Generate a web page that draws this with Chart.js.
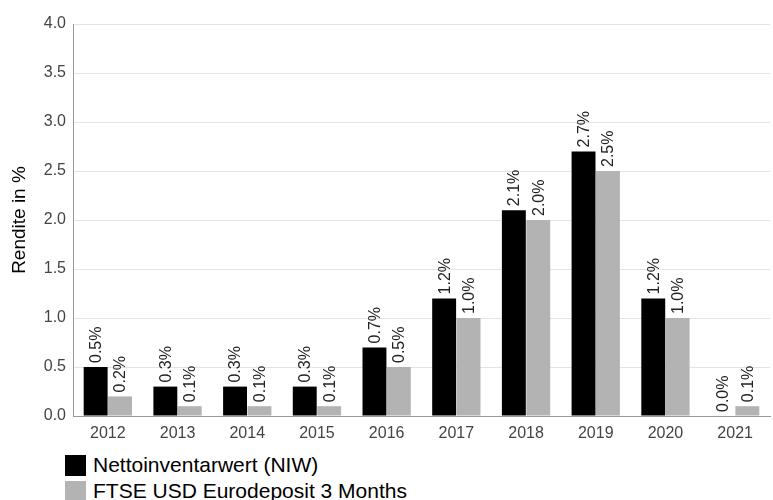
<!DOCTYPE html>
<html>
<head>
<meta charset="utf-8">
<script src="https://cdn.jsdelivr.net/npm/chart.js@4"></script>
<style>
  body { margin: 0; background: #fff; font-family: Arial, "Liberation Sans", sans-serif; }
  #wrap { position: relative; width: 773px; height: 440px; }
  #legend { margin-left: 65px; margin-top: 12px; }
  .item { display: flex; align-items: center; height: 26px; font-size: 21px; color: #000; }
  .box { width: 21px; height: 21px; margin-right: 7px; }
</style>
</head>
<body>
<div id="wrap"><canvas id="chart"></canvas></div>
<div id="legend"></div>
<script>
const years = ['2012', '2013', '2014', '2015', '2016', '2017', '2018', '2019', '2020', '2021'];
const niw = [0.5, 0.3, 0.3, 0.3, 0.7, 1.2, 2.1, 2.7, 1.2, 0.0];
const ftse = [0.2, 0.1, 0.1, 0.1, 0.5, 1.0, 2.0, 2.5, 1.0, 0.1];
const seriesNames = ['Nettoinventarwert (NIW)', 'FTSE USD Eurodeposit 3 Months'];
const seriesColors = ['#000000', '#b3b3b3'];

const fontFam = 'Arial, "Liberation Sans", sans-serif';

// rotated value labels above each bar
const valueLabels = {
    id: 'valueLabels',
    afterDatasetsDraw(chart) {
        const ctx = chart.ctx;
        ctx.save();
        ctx.font = '16px ' + fontFam;
        ctx.fillStyle = '#222';
        ctx.textAlign = 'left';
        ctx.textBaseline = 'middle';
        chart.data.datasets.forEach((ds, i) => {
            chart.getDatasetMeta(i).data.forEach((bar, j) => {
                ctx.save();
                ctx.translate(bar.x + 1, bar.y - 4);
                ctx.rotate(-Math.PI / 2);
                ctx.fillText(ds.data[j].toFixed(1) + '%', 0, 0);
                ctx.restore();
            });
        });
        ctx.restore();
    }
};

new Chart(document.getElementById('chart'), {
    type: 'bar',
    data: {
        labels: years,
        datasets: [
            { label: seriesNames[0], data: niw, backgroundColor: seriesColors[0] },
            { label: seriesNames[1], data: ftse, backgroundColor: seriesColors[1] }
        ]
    },
    options: {
        responsive: true,
        maintainAspectRatio: false,
        animation: false,
        categoryPercentage: 0.7,
        barPercentage: 0.98,
        layout: { padding: { top: 24, right: 3 } },
        plugins: {
            legend: { display: false },
            tooltip: { enabled: false }
        },
        scales: {
            x: {
                grid: { display: false },
                border: { color: '#999' },
                ticks: { color: '#444', font: { size: 16, family: fontFam }, padding: 0 },
                afterFit(scale) { scale.height = 24; }
            },
            y: {
                min: 0,
                max: 4,
                ticks: {
                    stepSize: 0.5,
                    color: '#444',
                    font: { size: 16, family: fontFam },
                    padding: 7,
                    callback: v => v.toFixed(1)
                },
                grid: { color: '#e3e3e3', drawTicks: false },
                border: { color: '#999' },
                title: {
                    display: true,
                    text: 'Rendite in %',
                    color: '#000',
                    font: { size: 19, family: fontFam },
                    padding: { top: 8, bottom: 0 }
                },
                afterFit(scale) { scale.width = 73; }
            }
        }
    },
    plugins: [valueLabels]
});

const legend = document.getElementById('legend');
seriesNames.forEach((name, i) => {
    const item = document.createElement('div');
    item.className = 'item';
    item.innerHTML = '<span class="box" style="background:' + seriesColors[i] + '"></span>' + name;
    legend.appendChild(item);
});
</script>
</body>
</html>
